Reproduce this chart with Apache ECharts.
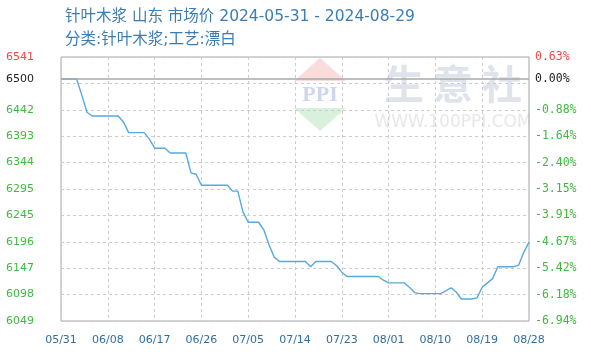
<!DOCTYPE html>
<html>
<head>
<meta charset="utf-8">
<script src="https://cdn.jsdelivr.net/npm/echarts@6/dist/echarts.min.js"></script>
<style>
html,body{margin:0;padding:0;background:#fff;}
#chart{width:591px;height:360px;}
</style>
</head>
<body>
<div id="chart"></div>
<script>
// ---- data ----
var titleText = '针叶木浆 山东 市场价 2024-05-31 - 2024-08-29';
var subTitleText = '分类:针叶木浆;工艺:漂白';
var xTickLabels = ['05/31','06/08','06/17','06/26','07/05','07/14','07/23','08/01','08/10','08/19','08/28'];
var prices = [
  6500, 6500, 6500, 6500, 6470, 6438,
  6431, 6431, 6431, 6431, 6431, 6431,
  6420, 6400, 6400, 6400, 6400, 6388,
  6371, 6371, 6371, 6362, 6362, 6362, 6362,
  6325, 6322,
  6302, 6302, 6302, 6302, 6302, 6302,
  6291, 6291, 6252, 6233, 6233, 6233,
  6219, 6191, 6168,
  6160, 6160, 6160, 6160, 6160, 6160,
  6150, 6160, 6160, 6160, 6160,
  6152, 6140,
  6132, 6132, 6132, 6132, 6132, 6132, 6132,
  6125, 6120, 6120, 6120, 6120,
  6112, 6102, 6100, 6100, 6100, 6100, 6100,
  6105, 6111, 6103, 6090, 6090, 6090,
  6092, 6112, 6120, 6128,
  6150, 6150, 6150, 6150, 6153, 6177, 6196
];
var baseValue = 6500;
var axisMin = 6049;
var axisMax = 6541;
var splitCount = 10;

// ---- derived ----
var step = (axisMax - axisMin) / splitCount;
var leftLabelValues = [];
for (var k = 0; k <= splitCount; k++) {
  var v = Math.round((axisMin + k * step) * 100) / 100;
  if (v > baseValue - step && v < baseValue) v = baseValue;
  leftLabelValues.push(v);
}
function pct(v) { return (v / baseValue - 1) * 100; }
var rightLabelValues = leftLabelValues.map(pct);
var seriesData = prices.map(function (p, i) { return [i, p]; });
var xMax = prices.length - 1;
var xStep = xMax / (xTickLabels.length - 1);

var chart = echarts.init(document.getElementById('chart'), null, {renderer: 'canvas'});
var titleColor = '#3b7db3';
var green = '#3fba3f', red = '#f04848', black = '#222222';
var titleFont = '"DejaVu Sans", "Noto Sans CJK SC", sans-serif';

chart.setOption({
  animation: false,
  backgroundColor: '#ffffff',
  title: [
    {text: titleText, left: 60, top: 4,
     textStyle: {color: titleColor, fontSize: 15.5, fontWeight: 'normal', fontFamily: titleFont}},
    {text: subTitleText, left: 60, top: 27,
     textStyle: {color: titleColor, fontSize: 15.5, fontWeight: 'normal', fontFamily: titleFont}}
  ],
  graphic: [
    {type: 'polygon', z: -10, silent: true,
     shape: {points: [[320, 58], [346, 81], [294, 81]]}, style: {fill: '#fbdcdc'}},
    {type: 'polygon', z: -10, silent: true,
     shape: {points: [[294, 108], [346, 108], [320, 131]]}, style: {fill: '#d9f1dc'}},
    {type: 'text', z: -10, silent: true, x: 320, y: 95,
     style: {text: 'PPI', fill: '#cdd7ec', font: 'bold 22px "Liberation Serif"', align: 'center', verticalAlign: 'middle'}},
    {type: 'text', z: -10, silent: true, x: 453, y: 84,
     style: {text: '生 意 社', fill: '#dfe4ec', font: 'bold 40px "Noto Sans CJK SC"', align: 'center', verticalAlign: 'middle'}},
    {type: 'text', z: -10, silent: true, x: 453, y: 123,
     style: {text: 'WWW.100PPI.COM', fill: '#e8e8e8', font: '17px "DejaVu Sans"', align: 'center', verticalAlign: 'middle'}}
  ],
  grid: {left: 61, right: 62, top: 57, bottom: 39, show: true, borderColor: '#a6a6a6', borderWidth: 1, backgroundColor: 'transparent', containLabel: false},
  xAxis: {
    type: 'value', min: 0, max: xMax, interval: xStep,
    axisLine: {show: false}, axisTick: {show: false},
    splitLine: {show: true, lineStyle: {color: '#cccccc', type: [3, 3], width: 1}},
    axisLabel: {
      margin: 14, color: '#2f6f9f', fontSize: 11, fontFamily: 'DejaVu Sans',
      formatter: function (v) { return xTickLabels[Math.round(v / xStep)] || ''; }
    }
  },
  yAxis: [
    {
      type: 'value', min: axisMin, max: axisMax, interval: step, position: 'left',
      axisLine: {show: false}, axisTick: {show: false},
      splitLine: {show: true, lineStyle: {color: '#cccccc', type: [3, 3], width: 1}},
      axisLabel: {
        customValues: leftLabelValues,
        margin: 55, align: 'left', fontSize: 11, fontFamily: 'DejaVu Sans',
        formatter: function (v) { return String(Math.floor(Number(v) + 1e-6)); },
        color: function (v) {
          v = Number(v);
          if (Math.abs(v - baseValue) < 1e-6) return black;
          return v > baseValue ? red : green;
        }
      }
    },
    {
      type: 'value', min: pct(axisMin), max: pct(axisMax), position: 'right',
      axisLine: {show: false}, axisTick: {show: false}, splitLine: {show: false},
      axisLabel: {
        customValues: rightLabelValues,
        margin: 6, align: 'left', fontSize: 11.5, fontFamily: 'DejaVu Sans Mono',
        formatter: function (v) { return Number(v).toFixed(2) + '%'; },
        color: function (v) {
          v = Number(v);
          if (Math.abs(v) < 1e-6) return black;
          return v > 0 ? red : green;
        }
      }
    }
  ],
  series: [{
    type: 'line', yAxisIndex: 0, data: seriesData,
    symbol: 'none', smooth: false,
    lineStyle: {color: '#56aade', width: 1.4},
    markLine: {
      silent: true, symbol: ['none', 'none'], label: {show: false},
      lineStyle: {color: '#a9a9a9', type: 'solid', width: 1.5},
      data: [{yAxis: baseValue}]
    }
  }]
});
</script>
</body>
</html>
